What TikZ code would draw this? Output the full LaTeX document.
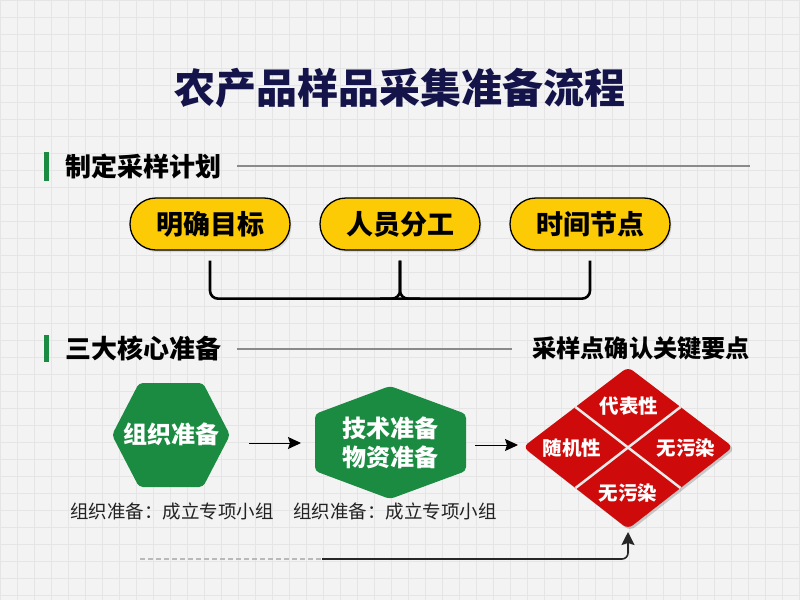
\documentclass[tikz,border=0pt]{standalone}
\usepackage{fontspec}
\newfontfamily\cjk{Noto Sans CJK SC}
\usetikzlibrary{arrows.meta,shadows,calc}
\definecolor{bgc}{HTML}{F3F3F3}
\definecolor{gridc}{HTML}{E5E5E5}
\definecolor{navy}{HTML}{14144A}
\definecolor{greenc}{HTML}{1B8B42}
\definecolor{yellowc}{HTML}{FCCB05}
\definecolor{redc}{HTML}{CF0A0A}
\definecolor{linec}{HTML}{8A8A8A}
\definecolor{textc}{HTML}{222222}
\tikzset{
  pill/.style={draw=black, line width=1.3pt, fill=yellowc, rounded corners=26pt,
    minimum width=160pt, minimum height=52pt, font=\cjk\bfseries\fontsize{27}{30}\selectfont,
    drop shadow={shadow xshift=1.5pt, shadow yshift=-2pt, opacity=0.25}},
  sectitle/.style={anchor=west, font=\cjk\bfseries\fontsize{26}{30}\selectfont, text=black, inner sep=0pt},
  keytitle/.style={anchor=west, font=\cjk\bfseries\fontsize{24.2}{30}\selectfont, text=black, inner sep=0pt},
  secbar/.style={fill=greenc, draw=none},
  secline/.style={draw=linec, line width=2.5pt},
  bracket/.style={draw=black, line width=2.6pt, rounded corners=8pt},
  flowarrow/.style={draw=black, line width=1pt, -{Stealth[length=13pt,width=12pt,inset=2pt]}},
  hexfill/.style={fill=greenc, draw=none, rounded corners=4pt},
  whitebold/.style={text=white, font=\cjk\bfseries\fontsize{24}{29}\selectfont, align=center, inner sep=0pt},
  dialabel/.style={text=white, font=\cjk\bfseries\fontsize{19.5}{24}\selectfont, inner sep=0pt},
  caption/.style={text=textc, font=\cjk\fontsize{18.5}{22}\selectfont, anchor=west, inner sep=0pt},
  sepline/.style={draw=gridc!80!white, line width=2.5pt},
}
\begin{document}
\begin{tikzpicture}[x=1pt,y=-1pt]
% background
\fill[bgc] (0,0) rectangle (800,600);
\useasboundingbox (0,0) rectangle (800,600);
\foreach \i in {0,17,...,800} {\draw[gridc, line width=1pt] (\i,0) -- (\i,600);}
\foreach \j in {0,17,...,600} {\draw[gridc, line width=1pt] (0,\j) -- (800,\j);}

% title
\node[font=\cjk\bfseries\fontsize{41}{46}\selectfont, text=navy] (title) at (400,88) {农产品样品采集准备流程};

% section 1
\fill[secbar] (44,152) rectangle (49,181);
\node[sectitle] (s1) at (65,166) {制定采样计划};
\draw[secline] (237,166) -- (750,166);

\node[pill] (p1) at (210,224) {明确目标};
\node[pill] (p2) at (400,224) {人员分工};
\node[pill] (p3) at (590,224) {时间节点};

\coordinate (b1) at ([yshift=-10pt]p1.south);
\coordinate (b2) at ([yshift=-10pt]p2.south);
\coordinate (b3) at ([yshift=-10pt]p3.south);
\draw[bracket] (b1) -- ++(0,38) -| (b3);
\draw[bracket] (b2) |- ++(-20,38);
\draw[bracket] (b2) |- ++(20,38);

% section 2
\fill[secbar] (44,335) rectangle (49,362);
\node[sectitle] (s2) at (65,348) {三大核心准备};
\draw[secline] (237,349) -- (512,349);
\node[keytitle] (s3) at (532,348) {采样点确认关键要点};

% hexagon 1
\fill[hexfill] (112,435) -- (139,383) -- (203,383) -- (230,435) -- (203,487) -- (139,487) -- cycle;
\node[whitebold] (h1) at (171,434) {组织准备};
% hexagon 2
\fill[hexfill] (390,386) -- (466,414) -- (466,471) -- (390,499) -- (315,471) -- (315,414) -- cycle;
\node[whitebold] (h2) at (390,443) {技术准备\\物资准备};

% arrows between
\coordinate (a1s) at (249,443);
\coordinate (a1e) at (301,443);
\draw[flowarrow] (a1s) -- (a1e);
\coordinate (a2s) at (475,445);
\coordinate (a2e) at (518,445);
\draw[flowarrow] (a2s) -- (a2e);

% diamond
\coordinate (dN) at (628,367);
\coordinate (dE) at (733,447);
\coordinate (dS) at (628,529);
\coordinate (dW) at (523,447);
\fill[black, opacity=0.18, rounded corners=6pt] ([shift={(2pt,-2pt)}]dN) -- ([shift={(2pt,-2pt)}]dE) -- ([shift={(2pt,-2pt)}]dS) -- ([shift={(2pt,-2pt)}]dW) -- cycle;
\fill[redc, rounded corners=6pt] (dN) -- (dE) -- (dS) -- (dW) -- cycle;
\draw[sepline] ($(dN)!0.5!(dW)$) -- ($(dE)!0.5!(dS)$);
\draw[sepline] ($(dN)!0.5!(dE)$) -- ($(dW)!0.5!(dS)$);
\node[dialabel] (k1) at (629,406) {代表性};
\node[dialabel] (k2) at (572,448) {随机性};
\node[dialabel] (k3) at (686,448) {无污染};
\node[dialabel] (k4) at (628,493) {无污染};

% captions
\node[caption] (c1) at (70,511) {组织准备：成立专项小组};
\node[caption] (c2) at (293,511) {组织准备：成立专项小组};

% bottom feedback line
\coordinate (f0) at (140,559);
\coordinate (f1) at (322,559);
\coordinate (ftip) at ([yshift=-3pt]dS);
\draw[draw=gray!55, line width=1.8pt, dash pattern=on 5pt off 3pt] (f0) -- (f1);
\draw[draw=black!85, line width=1.6pt, rounded corners=6pt, -{Stealth[length=13pt,width=13pt,inset=2pt]}] (f1) -| (ftip);
\end{tikzpicture}
\end{document}
